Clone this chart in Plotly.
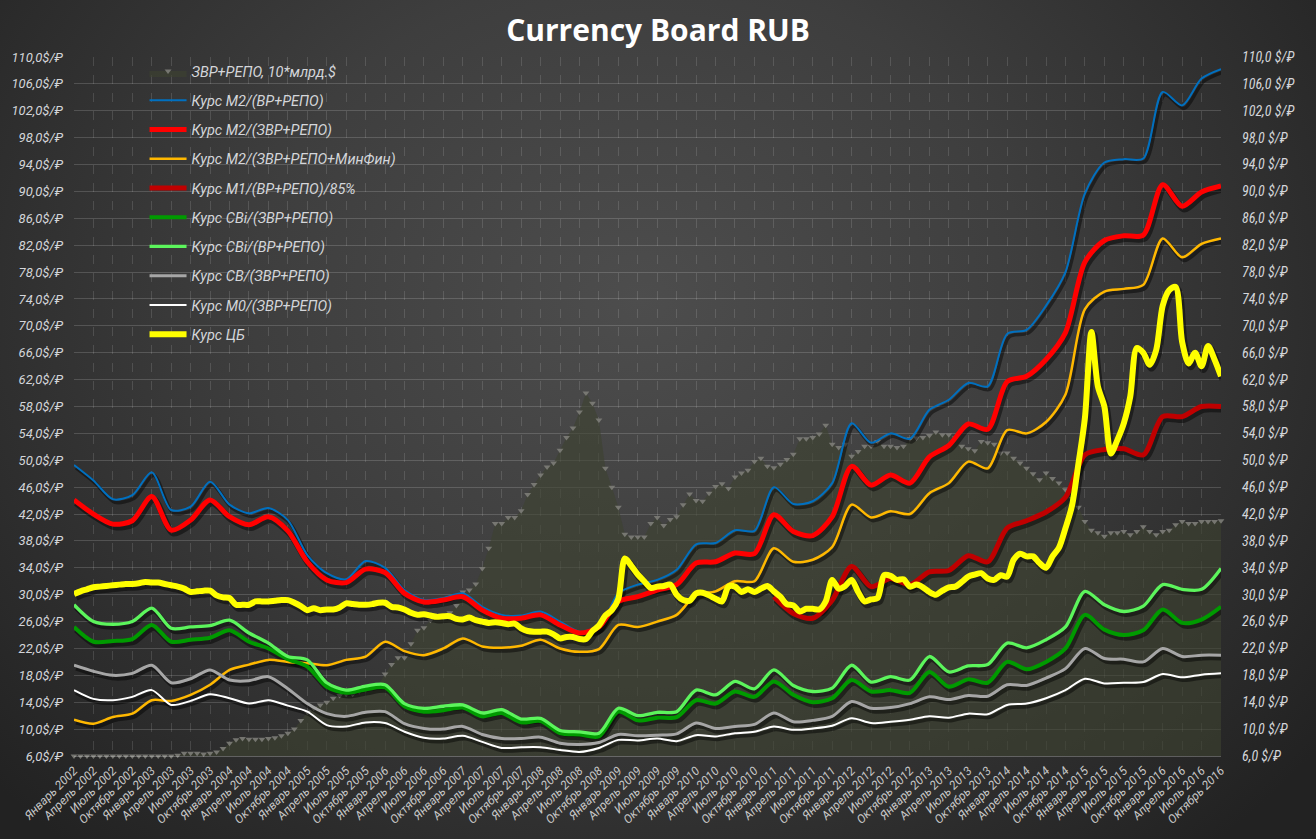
import base64
import plotly.graph_objects as go

# ---------------- data ----------------
MONTH_NAMES = ["Январь", "Февраль", "Март", "Апрель", "Май", "Июнь",
               "Июль", "Август", "Сентябрь", "Октябрь", "Ноябрь", "Декабрь"]
YEARS = list(range(2002, 2017))
months = [f"{n} {y}" for y in YEARS for n in MONTH_NAMES][:178]   # Январь 2002 .. Октябрь 2016
month_idx = list(range(len(months)))
quarter_idx = month_idx[::3]
quarter_labels = months[::3]
darkred_idx = quarter_idx[36:]          # M1 series visible from Январь 2011

Y_TICKS = [6 + 4 * i for i in range(27)]  # 6 .. 110

# ЗВР+РЕПО, 10*млрд.$ (monthly)
reserves = [
    6.0, 6.0, 6.0, 6.0, 6.0, 6.0, 6.0, 6.0, 6.0, 6.0, 6.0, 6.0,
    6.0, 6.0, 6.0, 6.0, 6.1, 6.4, 6.4, 6.4, 6.3, 6.4, 6.6, 7.1,
    7.9, 8.4, 8.6, 8.5, 8.5, 8.5, 8.6, 8.7, 9.0, 9.4, 10.0, 11.3,
    12.5, 13.1, 13.6, 14.0, 14.6, 15.0, 15.2, 15.2, 15.6, 15.9, 16.2, 16.6,
    18.2, 19.6, 20.6, 20.6, 22.7, 24.7, 25.1, 26.2, 26.7, 26.6, 27.3, 28.4,
    30.4, 30.7, 31.6, 33.9, 36.9, 40.6, 40.6, 41.5, 41.5, 42.5, 44.9, 46.4,
    47.8, 49.0, 49.6, 51.5, 53.4, 54.8, 57.2, 60.0, 58.5, 56.0, 48.8, 46.0,
    43.0, 39.0, 38.6, 38.6, 38.6, 40.6, 41.5, 40.3, 41.2, 41.6, 43.4, 45.0,
    44.0, 43.9, 45.1, 46.1, 46.5, 45.8, 47.5, 48.1, 48.5, 49.8, 50.3, 49.1,
    48.9, 49.4, 50.1, 50.9, 53.2, 53.2, 53.4, 53.9, 55.2, 52.4, 51.9, 52.4,
    50.6, 51.3, 52.1, 52.1, 52.8, 52.1, 52.1, 51.9, 52.1, 53.2, 53.3, 53.4,
    53.7, 54.2, 53.8, 53.8, 53.3, 52.1, 51.7, 51.4, 52.8, 52.6, 52.4, 51.1,
    51.1, 50.3, 49.6, 48.8, 48.0, 47.1, 48.1, 47.3, 46.6, 45.6, 44.3, 43.0,
    40.9, 39.6, 39.2, 38.7, 39.2, 39.2, 39.4, 38.9, 39.4, 40.1, 39.4, 38.9,
    39.4, 39.6, 40.4, 40.9, 40.6, 40.6, 40.9, 40.9, 40.9, 41.0,
]

# Курс ЦБ (monthly)
cb_rate = [
    30.1, 30.5, 30.8, 31.1, 31.2, 31.3, 31.4, 31.5, 31.6, 31.6, 31.7, 31.9,
    31.8, 31.8, 31.6, 31.4, 31.2, 30.9, 30.4, 30.5, 30.6, 30.6, 29.9, 29.6,
    29.5, 28.5, 28.5, 28.5, 29.0, 29.0, 29.0, 29.1, 29.2, 29.2, 28.8, 28.3,
    27.7, 28.0, 27.7, 27.8, 27.8, 28.1, 28.7, 28.6, 28.5, 28.5, 28.6, 28.8,
    28.8, 28.2, 28.1, 27.8, 27.3, 27.0, 27.1, 26.9, 26.7, 26.8, 26.8, 26.4,
    26.3, 26.6, 26.2, 26.0, 25.8, 25.9, 25.8, 25.6, 25.7, 25.0, 24.6, 24.5,
    24.5, 24.5, 24.1, 23.5, 23.7, 23.7, 23.4, 23.4, 24.6, 25.4, 26.9, 27.7,
    29.4, 35.4, 34.3, 33.0, 32.0, 31.0, 31.2, 31.3, 31.5, 30.0, 29.2, 29.1,
    30.2, 30.3, 29.9, 29.4, 29.0, 31.2, 31.2, 30.4, 30.8, 30.4, 30.9, 31.3,
    30.5, 29.7, 28.6, 28.4, 27.5, 27.9, 27.9, 27.8, 29.0, 32.2, 30.9, 31.3,
    32.2, 30.4, 29.0, 29.3, 29.5, 32.9, 32.8, 32.2, 32.3, 31.2, 31.5, 31.1,
    30.4, 30.0, 30.6, 31.1, 31.2, 31.9, 32.7, 33.0, 33.2, 32.4, 32.2, 32.9,
    32.7, 35.2, 36.1, 35.7, 35.7, 34.7, 34.0, 35.7, 37.0, 39.9, 43.2, 49.5,
    56.3, 69.1, 61.0, 58.0, 51.0, 53.0, 55.5, 59.5, 66.7, 66.0, 64.2, 66.4,
    73.0, 75.3, 75.8, 67.6, 64.4, 66.0, 64.0, 67.0, 65.0, 62.5,
]

# quarterly series (Январь 2002 .. Октябрь 2016)
m2_vr = [
    49.3, 47.0, 44.2, 44.8, 48.2, 42.6, 43.1, 46.8, 43.4, 42.1,
    42.9, 41.1, 35.9, 33.2, 32.3, 35.0, 34.0, 30.7, 29.2, 29.5,
    30.2, 28.2, 27.0, 26.9, 27.5, 26.0, 24.5, 25.0, 30.2, 31.5,
    32.2, 33.7, 37.5, 37.7, 39.6, 39.5, 46.0, 43.5, 43.9, 46.6,
    55.5, 52.6, 54.0, 53.2, 57.5, 59.0, 61.5, 61.0, 68.8, 69.4,
    73.0, 78.0, 89.7, 94.3, 94.8, 94.9, 104.8, 102.8, 106.8, 108.2,
]
m2_zvr = [
    44.1, 42.0, 40.5, 41.0, 44.6, 39.6, 41.1, 44.1, 41.6, 40.4,
    41.6, 39.5, 34.9, 32.2, 31.8, 33.8, 33.3, 30.2, 28.9, 29.2,
    29.7, 27.7, 26.5, 26.5, 27.0, 25.5, 24.3, 25.2, 29.0, 29.7,
    30.7, 31.5, 34.7, 34.9, 36.2, 36.1, 41.9, 39.4, 38.8, 41.6,
    49.1, 46.3, 47.8, 46.6, 50.5, 52.2, 55.4, 54.6, 61.7, 62.5,
    65.0, 69.0, 79.5, 82.7, 83.4, 83.5, 91.0, 87.8, 89.9, 90.8,
]
m2_minfin = [
    11.4, 10.8, 11.8, 12.3, 14.3, 14.2, 15.1, 16.6, 18.8, 19.6,
    20.3, 20.0, 19.8, 19.5, 20.3, 20.8, 23.0, 21.6, 21.0, 22.0,
    23.5, 22.3, 22.1, 22.4, 23.3, 22.0, 21.5, 21.9, 25.5, 25.2,
    26.0, 27.0, 30.0, 30.5, 32.0, 32.0, 36.9, 34.9, 35.2, 37.1,
    43.4, 41.5, 42.4, 42.0, 45.1, 46.6, 49.8, 48.8, 54.5, 54.0,
    55.7, 59.8, 72.5, 75.1, 75.5, 76.1, 83.0, 80.2, 82.2, 83.0,
]
m1_vr = [
    29.7, 27.2, 26.5, 29.2, 34.2, 31.2, 32.4, 31.5, 33.4, 33.6,
    35.8, 34.9, 39.9, 41.0, 42.3, 44.5, 50.8, 51.6, 51.7, 50.8,
    56.5, 56.5, 58.0, 58.0,
]
cbi_zvr = [
    25.2, 23.0, 23.1, 23.4, 25.5, 23.0, 23.3, 23.6, 24.7, 23.0,
    22.0, 20.4, 19.3, 16.3, 15.4, 15.9, 16.2, 13.4, 12.6, 12.8,
    13.2, 11.9, 12.4, 11.0, 11.2, 9.4, 9.2, 8.9, 12.6, 11.3,
    11.7, 11.8, 14.3, 13.8, 15.6, 14.8, 17.1, 15.1, 14.0, 14.6,
    17.3, 15.6, 15.8, 15.4, 18.5, 16.3, 17.4, 16.9, 20.0, 18.9,
    20.0, 22.0, 27.0, 24.8, 24.0, 24.7, 27.8, 25.8, 26.3, 28.2,
]
cbi_vr = [
    28.5, 26.0, 25.6, 26.0, 28.0, 25.0, 25.2, 25.4, 26.2, 24.3,
    22.8, 20.8, 20.3, 16.9, 15.8, 16.4, 16.6, 13.8, 13.1, 13.4,
    13.6, 12.4, 12.9, 11.5, 11.6, 9.8, 9.6, 9.4, 13.1, 12.0,
    12.5, 12.6, 15.8, 15.1, 17.1, 16.0, 18.8, 16.5, 15.6, 16.1,
    19.5, 17.0, 17.8, 17.3, 20.8, 18.5, 19.4, 19.6, 22.8, 22.1,
    23.3, 25.2, 30.5, 28.5, 27.5, 28.3, 31.5, 30.8, 30.8, 33.9,
]
cb_zvr = [
    19.5, 18.6, 18.0, 18.3, 19.5, 16.9, 17.5, 18.8, 17.3, 17.2,
    17.8, 16.0, 13.8, 12.3, 11.9, 12.5, 12.6, 10.8, 10.1, 10.0,
    10.4, 9.2, 8.6, 8.6, 8.8, 7.9, 7.7, 8.0, 9.2, 9.0,
    9.1, 9.3, 10.9, 10.1, 10.4, 10.7, 12.4, 11.1, 11.3, 11.9,
    14.1, 13.1, 13.2, 13.8, 14.8, 14.4, 15.0, 14.9, 16.6, 16.5,
    17.6, 19.0, 22.0, 20.5, 20.4, 20.0, 22.0, 20.8, 21.0, 21.0,
]
m0_zvr = [
    15.8, 14.5, 14.3, 14.8, 15.8, 13.6, 14.2, 15.2, 14.6, 13.8,
    14.3, 13.5, 12.6, 10.6, 10.4, 11.0, 10.9, 9.6, 8.7, 8.6,
    9.0, 8.1, 7.2, 7.3, 7.3, 6.9, 6.6, 7.2, 8.4, 8.3,
    8.6, 8.2, 9.1, 8.9, 9.4, 9.6, 10.4, 9.9, 10.1, 10.5,
    11.6, 10.9, 11.1, 11.4, 11.9, 11.7, 12.3, 12.2, 13.6, 13.8,
    14.6, 15.8, 17.5, 16.8, 16.9, 17.0, 18.2, 17.7, 18.1, 18.3,
]

# ---------------- styling ----------------
W, H = 1316, 839
ML, MR, MT, MB = 74, 95, 57, 83
PW, PH = W - ML - MR, H - MT - MB
X_MAX = len(months) - 1
px_per_month = PW / X_MAX
px_per_unit = PH / (Y_TICKS[-1] - Y_TICKS[0])
DX = 2 / px_per_month     # shadow offset right
DY = 3 / px_per_unit      # shadow offset down

FONT = "Roboto"
LABEL_COLOR = "#d4d6da"

series = [
    ("Курс M2/(ВР+РЕПО)", quarter_idx, m2_vr, "#0070C0", 2),
    ("Курс M2/(ЗВР+РЕПО)", quarter_idx, m2_zvr, "#FF0000", 5),
    ("Курс M2/(ЗВР+РЕПО+МинФин)", quarter_idx, m2_minfin, "#FFB800", 2.5),
    ("Курс M1/(ВР+РЕПО)/85%", darkred_idx, m1_vr, "#C00000", 5),
    ("Курс СВi/(ЗВР+РЕПО)", quarter_idx, cbi_zvr, "#009A00", 4),
    ("Курс СВi/(ВР+РЕПО)", quarter_idx, cbi_vr, "#5CF55C", 3.3),
    ("Курс СВ/(ЗВР+РЕПО)", quarter_idx, cb_zvr, "#A6A6A6", 3),
    ("Курс М0/(ЗВР+РЕПО)", quarter_idx, m0_zvr, "#FFFFFF", 2),
    ("Курс ЦБ", month_idx, cb_rate, "#FFFF00", 6),
]

fig = go.Figure()

fig.add_trace(go.Scatter(
    x=month_idx, y=reserves, name="ЗВР+РЕПО, 10*млрд.$",
    mode="markers", fill="tozeroy", fillcolor="rgba(62,66,48,0.62)",
    marker=dict(symbol="triangle-down", size=6, color="rgba(125,125,120,0.9)"),
    cliponaxis=False, xaxis="x", yaxis="y", legendgroup="g0",
    hoverinfo="skip",
))

# shadows (shifted axes)
for name, xs, ys, color, width in series:
    fig.add_trace(go.Scatter(
        x=xs, y=ys, mode="lines", showlegend=False, hoverinfo="skip",
        line=dict(color="rgba(0,0,0,0.45)", width=width + 1.5, shape="spline", smoothing=0.8),
        xaxis="x2", yaxis="y2",
    ))

for i, (name, xs, ys, color, width) in enumerate(series):
    fig.add_trace(go.Scatter(
        x=xs, y=ys, mode="lines", name=name, legendgroup=f"g{i+1}",
        line=dict(color=color, width=width, shape="spline", smoothing=0.8),
        xaxis="x3", yaxis="y3",
    ))

left_labels = [f"{v:.1f}".replace(".", ",") + "$/₽" for v in Y_TICKS]
right_labels = [f"{v:.1f}".replace(".", ",") + " $/₽" for v in Y_TICKS]

svg = f'''<svg xmlns="http://www.w3.org/2000/svg" width="{W}" height="{H}" viewBox="0 0 {W} {H}">
<defs><radialGradient id="g" cx="640" cy="300" r="860" gradientUnits="userSpaceOnUse"
 gradientTransform="translate(640 300) scale(1 0.85) translate(-640 -300)">
<stop offset="0" stop-color="#4d4d4d"/><stop offset="0.45" stop-color="#3e3e3e"/>
<stop offset="1" stop-color="#222222"/></radialGradient></defs>
<rect width="{W}" height="{H}" fill="url(#g)"/></svg>'''
bg_src = "data:image/svg+xml;base64," + base64.b64encode(svg.encode()).decode()

grid_h = "rgba(255,255,255,0.16)"
grid_v = "rgba(255,255,255,0.13)"

fig.update_layout(
    width=W, height=H, autosize=False,
    margin=dict(l=ML, r=MR, t=MT, b=MB, pad=0),
    paper_bgcolor="#2e2e2e", plot_bgcolor="rgba(0,0,0,0)",
    images=[dict(source=bg_src, xref="paper", yref="paper",
                 x=-ML / PW, y=1 + MT / PH, sizex=W / PW, sizey=H / PH,
                 xanchor="left", yanchor="top", sizing="stretch", layer="below")],
    title=dict(text="<b>Currency Board RUB</b>", x=0.5, xref="container", xanchor="center",
               y=1 - 30 / H, yref="container", yanchor="middle",
               font=dict(family="Open Sans", size=30, color="#ffffff")),
    showlegend=True,
    legend=dict(x=0.0615, y=1.0 + 2 / PH, xanchor="left", yanchor="top", itemwidth=37,
                bgcolor="rgba(0,0,0,0)", tracegroupgap=7.4, traceorder="grouped",
                font=dict(family=FONT, size=14.5, color=LABEL_COLOR, style="italic")),
    xaxis=dict(range=[0, X_MAX], tickmode="array", tickvals=quarter_idx, ticktext=quarter_labels,
               tickangle=-45, showgrid=True, gridcolor=grid_v, griddash="dash", gridwidth=1,
               zeroline=False, showline=True, linecolor="rgba(255,255,255,0.25)", ticks="",
               ticklabelstandoff=2,
               tickfont=dict(family=FONT, size=12, color="#c8c8c8", style="italic")),
    xaxis2=dict(range=[-DX, X_MAX - DX], overlaying="x", visible=False),
    xaxis3=dict(range=[0, X_MAX], overlaying="x", visible=False, anchor="y3"),
    yaxis=dict(range=[Y_TICKS[0], Y_TICKS[-1]], tickmode="array", tickvals=Y_TICKS, ticktext=left_labels,
               showgrid=True, gridcolor=grid_h, gridwidth=1, zeroline=False, showline=False,
               ticks="", ticklabelstandoff=10,
               tickfont=dict(family=FONT, size=13, color=LABEL_COLOR, style="italic")),
    yaxis2=dict(range=[Y_TICKS[0] + DY, Y_TICKS[-1] + DY], overlaying="y", visible=False),
    yaxis3=dict(range=[Y_TICKS[0], Y_TICKS[-1]], overlaying="y", side="right", anchor="x3",
                tickmode="array", tickvals=Y_TICKS, ticktext=right_labels,
                showgrid=False, zeroline=False, showline=False, ticks="", ticklabelstandoff=20,
                tickfont=dict(family="Liberation Sans Narrow, Roboto Condensed, Roboto", size=14,
                              color=LABEL_COLOR, style="italic")),
)

fig.write_html("out.html")
